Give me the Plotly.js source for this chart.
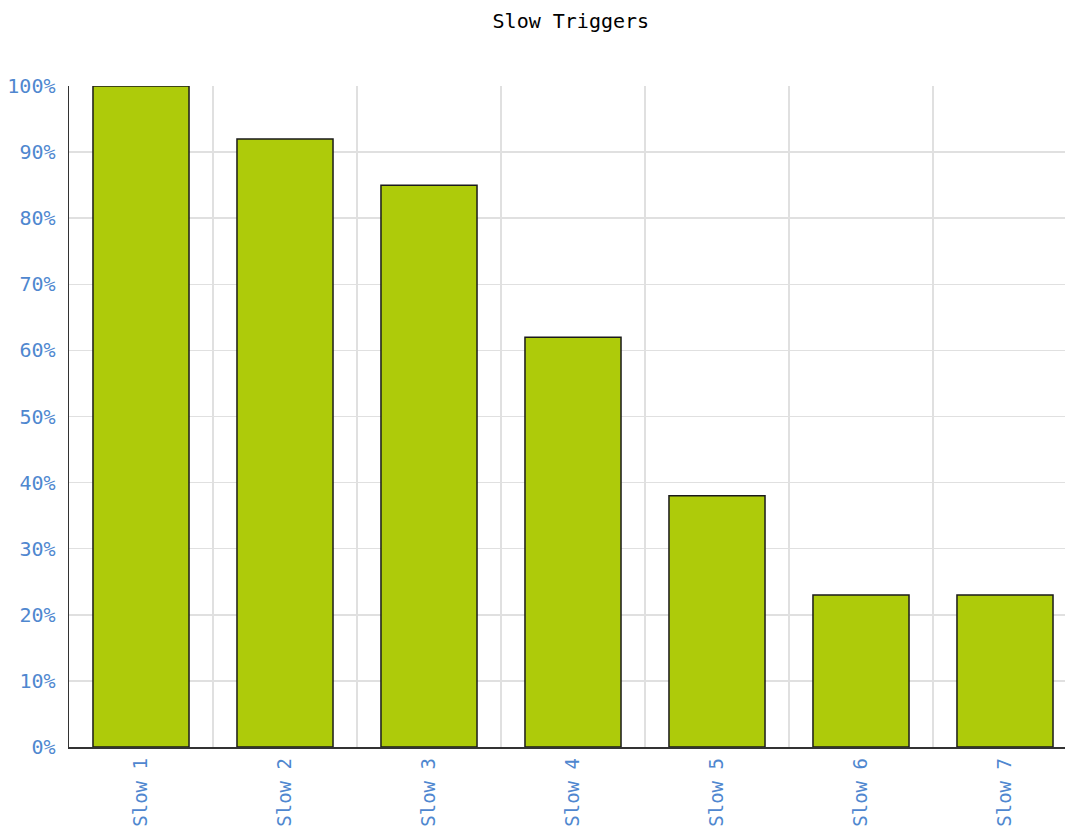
<!DOCTYPE html>
<html>
<head>
<meta charset="utf-8">
<script src="https://cdn.plot.ly/plotly-3.0.1.min.js"></script>
<style>html,body{margin:0;padding:0;overflow:hidden;background:#fff}</style>
</head>
<body>
<div id="chart" style="width:1065px;height:832px"></div>
<script>
const categories = ["Slow 1", "Slow 2", "Slow 3", "Slow 4", "Slow 5", "Slow 6", "Slow 7"];
const values = [100, 92, 85, 62, 38, 23, 23];

const mono = "DejaVu Sans Mono, Liberation Mono, monospace";
const xRange = [-0.5, 6.4167];

const traces = [
  {
    type: "bar",
    x: categories,
    y: values,
    width: 0.667,
    marker: { color: "#aecb0a", line: { color: "#1a1a1a", width: 1.5 } },
    hoverinfo: "x+y"
  },
  {
    type: "scatter",
    x: [0], y: [0],
    xaxis: "x2",
    mode: "markers",
    marker: { opacity: 0 },
    hoverinfo: "skip",
    showlegend: false
  }
];

const layout = {
  width: 1065,
  height: 832,
  margin: { l: 69, r: 0, t: 86, b: 85 },
  paper_bgcolor: "#fff",
  plot_bgcolor: "#fff",
  showlegend: false,
  bargap: 0.333,
  title: {
    text: "Slow Triggers",
    font: { family: mono, size: 20, color: "#000" },
    x: 0.536, xref: "container", xanchor: "center",
    y: 0.975, yref: "container", yanchor: "middle"
  },
  xaxis: {
    type: "category",
    range: xRange,
    showgrid: false,
    zeroline: false,
    showline: true,
    linecolor: "#333",
    linewidth: 1.5,
    ticks: "outside",
    ticklen: 2,
    tickcolor: "rgba(0,0,0,0)",
    tickangle: -90,
    tickfont: { family: mono, size: 19, color: "#4f87cf" },
    fixedrange: true
  },
  xaxis2: {
    overlaying: "x",
    type: "linear",
    range: xRange,
    tick0: 0.5,
    dtick: 1,
    showgrid: true,
    gridcolor: "#e0e0e0",
    gridwidth: 1.5,
    showticklabels: false,
    zeroline: false,
    showline: false,
    ticks: "",
    fixedrange: true
  },
  yaxis: {
    range: [0, 100],
    dtick: 10,
    ticksuffix: "%",
    showgrid: true,
    gridcolor: "#e0e0e0",
    gridwidth: 1.5,
    zeroline: false,
    showline: true,
    linecolor: "#333",
    linewidth: 1.5,
    ticks: "outside",
    ticklen: 8,
    tickcolor: "rgba(0,0,0,0)",
    tickfont: { family: mono, size: 20, color: "#4f87cf" },
    fixedrange: true
  }
};

Plotly.newPlot("chart", traces, layout, { displayModeBar: false, staticPlot: true });
</script>
</body>
</html>
